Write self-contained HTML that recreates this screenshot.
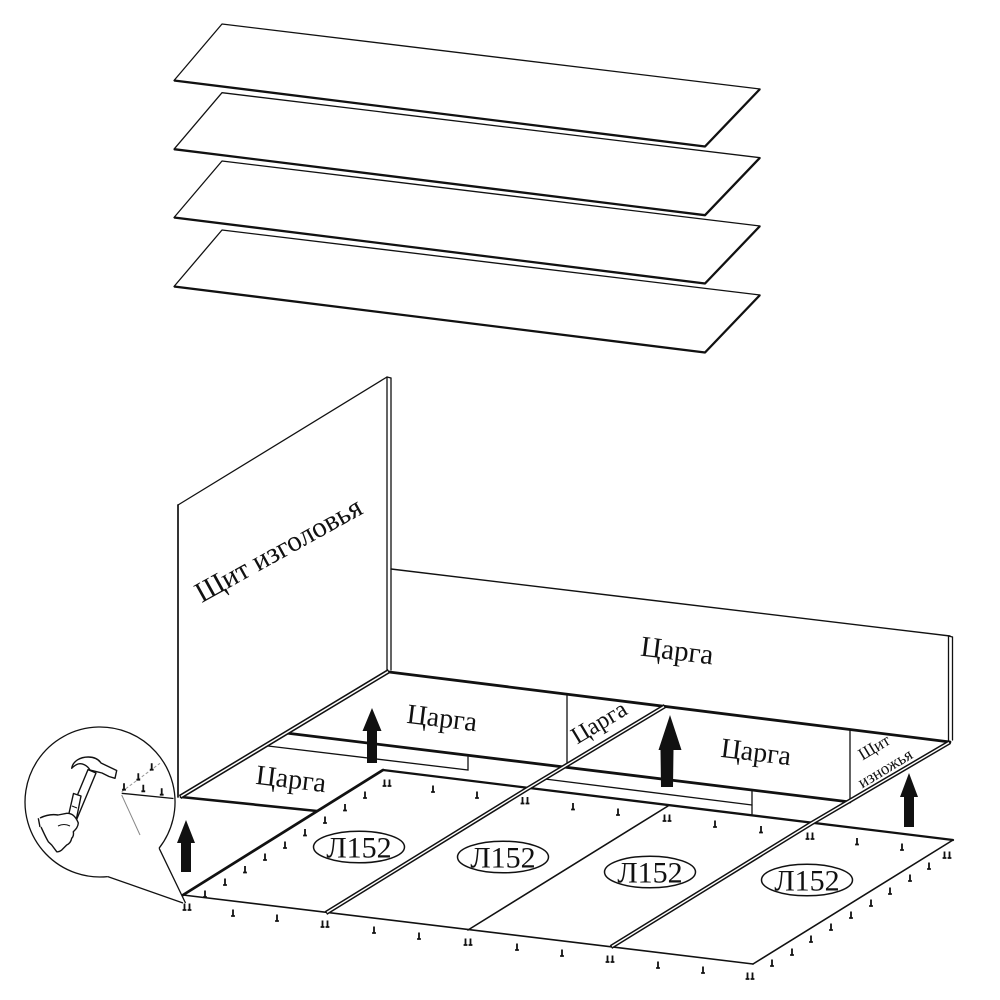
<!DOCTYPE html>
<html><head><meta charset="utf-8"><style>
html,body{margin:0;padding:0;background:#fff;}
svg{display:block;}
text{font-family:"Liberation Serif","DejaVu Serif",serif;fill:#111;}
</style></head><body>
<svg width="1000" height="1000" viewBox="0 0 1000 1000" xmlns="http://www.w3.org/2000/svg">
<defs>
<g id="n"><path d="M0,-3.5V3M-1.9,3H1.9" stroke="#111" stroke-width="1.8" fill="none"/></g>
<g id="nn"><use href="#n" x="-2.5"/><use href="#n" x="2.5"/></g>
</defs>
<rect width="1000" height="1000" fill="#fff"/>

<!-- top boards -->
<g stroke="#111" stroke-linejoin="round" fill="#fff">
<polygon points="222,24 760,89 705,146.5 174,80.5" stroke-width="1.3"/>
<polyline points="174,80.5 705,146.5 760,89" fill="none" stroke-width="2.3"/>
<polygon points="222,92.7 760,157.7 705,215.2 174,149.2" stroke-width="1.3"/>
<polyline points="174,149.2 705,215.2 760,157.7" fill="none" stroke-width="2.3"/>
<polygon points="222,161 760,226 705,283.5 174,217.5" stroke-width="1.3"/>
<polyline points="174,217.5 705,283.5 760,226" fill="none" stroke-width="2.3"/>
<polygon points="222,230 760,295 705,352.5 174,286.5" stroke-width="1.3"/>
<polyline points="174,286.5 705,352.5 760,295" fill="none" stroke-width="2.3"/>
</g>

<g stroke="#111" fill="none" stroke-linecap="round">
<!-- headboard -->
<line x1="178" y1="505" x2="387" y2="377" stroke-width="1.3"/>
<line x1="178" y1="505" x2="178" y2="797" stroke-width="1.7"/>
<line x1="387" y1="377" x2="387" y2="671" stroke-width="1.3"/>
<line x1="391" y1="378" x2="391" y2="670" stroke-width="1.3"/>
<line x1="387" y1="377" x2="391" y2="378" stroke-width="1.2"/>

<!-- far rail -->
<line x1="391" y1="569" x2="950" y2="636" stroke-width="1.4"/>
<line x1="948.5" y1="636" x2="948.5" y2="742" stroke-width="1.3"/>
<line x1="952.5" y1="637" x2="952.5" y2="740" stroke-width="1.3"/>
<line x1="948.5" y1="636" x2="952.5" y2="637" stroke-width="1.2"/>
<line x1="389" y1="672" x2="950" y2="742" stroke-width="2.8"/>

<!-- dividers -->
<line x1="567" y1="694" x2="567" y2="767" stroke-width="1.3"/>
<line x1="850" y1="729" x2="850" y2="802" stroke-width="1.3"/>

<!-- middle rail bottom -->
<line x1="286" y1="733" x2="850" y2="802" stroke-width="2.8"/>
<!-- plank 1 -->
<polyline points="268,746 468,770 468,757" stroke-width="1.3"/>
<!-- plank 2 -->
<polyline points="545,779 752,805" stroke-width="1.3"/>
<line x1="752" y1="791" x2="752" y2="814" stroke-width="1.3"/>

<!-- near left rail bottom -->
<line x1="181" y1="797" x2="317" y2="811" stroke-width="2.6"/>

<!-- base -->
<line x1="383" y1="770" x2="953" y2="840" stroke-width="2.3"/>
<line x1="383" y1="770" x2="183" y2="895" stroke-width="2.7"/>
<line x1="183" y1="895" x2="753" y2="964" stroke-width="1.6"/>
<line x1="753" y1="964" x2="953" y2="840" stroke-width="1.6"/>
<line x1="468" y1="930" x2="668" y2="806" stroke-width="1.6"/>
</g>

<!-- double lines -->
<g fill="none" stroke-linecap="butt" stroke-linejoin="round">
<line x1="180" y1="797" x2="389" y2="671" stroke="#111" stroke-width="4.6"/>
<line x1="181" y1="796.4" x2="388" y2="671.6" stroke="#fff" stroke-width="1.5"/>
<polyline points="665,706 527,789 326,913" stroke="#111" stroke-width="4.4"/>
<polyline points="664,706.6 527,789 327,912.4" stroke="#fff" stroke-width="1.4"/>
<polyline points="950,742 812,823 611,947" stroke="#111" stroke-width="4.4"/>
<polyline points="949,742.6 812,823 612,946.4" stroke="#fff" stroke-width="1.4"/>
</g>

<!-- arrows -->
<g fill="#111">
<polygon points="186,820 195,843 191,843 191,872 181,872 181,843 177,843"/>
<polygon points="372,708 381.5,731 377,731 377,763 367,763 367,731 362.5,731"/>
<polygon points="670,715 681.5,750 673.5,750 673,787 661,787 660.5,750 658.5,750"/>
<polygon points="909,773 918,797 914,797 914,827 904,827 904,797 900,797"/>
</g>

<!-- ellipses -->
<g fill="#fff" stroke="#111" stroke-width="1.5">
<ellipse cx="359" cy="847" rx="45.5" ry="15.8"/>
<ellipse cx="503" cy="857" rx="45.5" ry="15.8"/>
<ellipse cx="650" cy="872" rx="45.5" ry="15.8"/>
<ellipse cx="807" cy="880" rx="45.5" ry="15.8"/>
</g>
<g font-size="30" text-anchor="middle">
<text x="359" y="857.5">Л152</text>
<text x="503" y="867.5">Л152</text>
<text x="650" y="882.5">Л152</text>
<text x="807" y="890.5">Л152</text>
</g>

<!-- labels -->
<text x="283" y="558" font-size="29" text-anchor="middle" transform="rotate(-29 283 558)">Щит изголовья</text>
<text x="676" y="660" font-size="29" text-anchor="middle" transform="rotate(7 676 660)">Царга</text>
<text x="441" y="727" font-size="28" text-anchor="middle" transform="rotate(7 441 727)">Царга</text>
<text x="290" y="788" font-size="28" text-anchor="middle" transform="rotate(7 290 788)">Царга</text>
<text x="755" y="761" font-size="28" text-anchor="middle" transform="rotate(7 755 761)">Царга</text>
<text x="603" y="729" font-size="24" text-anchor="middle" transform="rotate(-31 603 729)">Царга</text>
<text x="877" y="752" font-size="17" text-anchor="middle" transform="rotate(-31 877 752)">Щит</text>
<text x="888" y="773" font-size="17" text-anchor="middle" transform="rotate(-31 888 773)">изножья</text>

<!-- nails -->
<g>
<use href="#n" x="433" y="789"/><use href="#n" x="477" y="795"/><use href="#n" x="573" y="806.5"/><use href="#n" x="618" y="812"/>
<use href="#n" x="715" y="824"/><use href="#n" x="761" y="829.5"/><use href="#n" x="857" y="841.5"/><use href="#n" x="902" y="847"/>
<use href="#n" x="365" y="795"/><use href="#n" x="345" y="807.5"/><use href="#n" x="325" y="820"/><use href="#n" x="305" y="832.5"/>
<use href="#n" x="285" y="845"/><use href="#n" x="265" y="857"/><use href="#n" x="245" y="869.5"/><use href="#n" x="225" y="882"/><use href="#n" x="205" y="894"/>
<use href="#n" x="233" y="913"/><use href="#n" x="277" y="918"/><use href="#n" x="374" y="930"/><use href="#n" x="419" y="936"/>
<use href="#n" x="517" y="947"/><use href="#n" x="562" y="953"/><use href="#n" x="658" y="965"/><use href="#n" x="703" y="970"/>
<use href="#n" x="772" y="963"/><use href="#n" x="792" y="952"/><use href="#n" x="811" y="939"/><use href="#n" x="831" y="927"/>
<use href="#n" x="851" y="915"/><use href="#n" x="871" y="903"/><use href="#n" x="890" y="891"/><use href="#n" x="910" y="878"/><use href="#n" x="929" y="866"/>
<use href="#nn" x="387" y="783"/><use href="#nn" x="525" y="800.5"/><use href="#nn" x="667" y="818"/><use href="#nn" x="810" y="836"/>
<use href="#nn" x="947" y="855"/><use href="#nn" x="187" y="907"/><use href="#nn" x="325" y="924"/><use href="#nn" x="468" y="942"/>
<use href="#nn" x="610" y="959"/><use href="#nn" x="750" y="976"/>
</g>

<!-- magnifier -->
<g fill="none" stroke="#111" stroke-width="1.3" stroke-linejoin="round">
<path d="M159.1,848.2 A75,75 0 1,0 107.8,876.6"/>
<path d="M107.8,876.6 L183,903 M159.1,848.2 L185.5,903"/>
<line x1="121.7" y1="793.3" x2="173.5" y2="798.5"/>
<line x1="121.7" y1="795" x2="140" y2="835" stroke="#888" stroke-width="1"/>
<line x1="121.7" y1="791.7" x2="160" y2="763.3" stroke="#999" stroke-width="1" stroke-dasharray="3,2"/>
</g>
<g>
<use href="#n" x="124" y="786.7"/><use href="#n" x="138.3" y="776.7"/><use href="#n" x="151.7" y="766.7"/>
<use href="#n" x="143.3" y="788.3"/><use href="#n" x="161.7" y="791.7"/>
</g>
<!-- hammer -->
<g fill="#fff" stroke="#111" stroke-width="1.4" stroke-linejoin="round">
<polygon points="96,773 76,821 68,817.6 88,769.6"/>
<polygon points="81,796 76,821 68,817.6 73.5,793.5"/>
<line x1="77" y1="808" x2="72" y2="806" stroke-width="1"/>
<path d="M71.7,768.3 C73,761 80,757 88.3,757 C95,757 99,760 101,763 L108.3,766.5 L116.7,770.5 L115,778.3 L109,776.5 L102,773 L96.7,771.7 L90,770 C87,765 82,763 78,764 C75,765 73,767 71.7,768.3 Z"/>
<path d="M40,818 C46,815 52,814 58,815 L66.7,813.3 C72,813 76,817 78.3,823 C78,827 76,829 73.3,831.7 C74,835 73,837 71.7,838.3 C71,842 69,844 66.7,845 L61.7,850 C59,852 57,852 56.7,851.7 L51.7,845 L48.3,841.7 C45,836 43,831 41,827"/>
<line x1="38.3" y1="818.3" x2="40" y2="827"/>
<path d="M58,826 C62,824 66,824 70,826" fill="none" stroke-width="1"/>
</g>
</svg>
</body></html>
